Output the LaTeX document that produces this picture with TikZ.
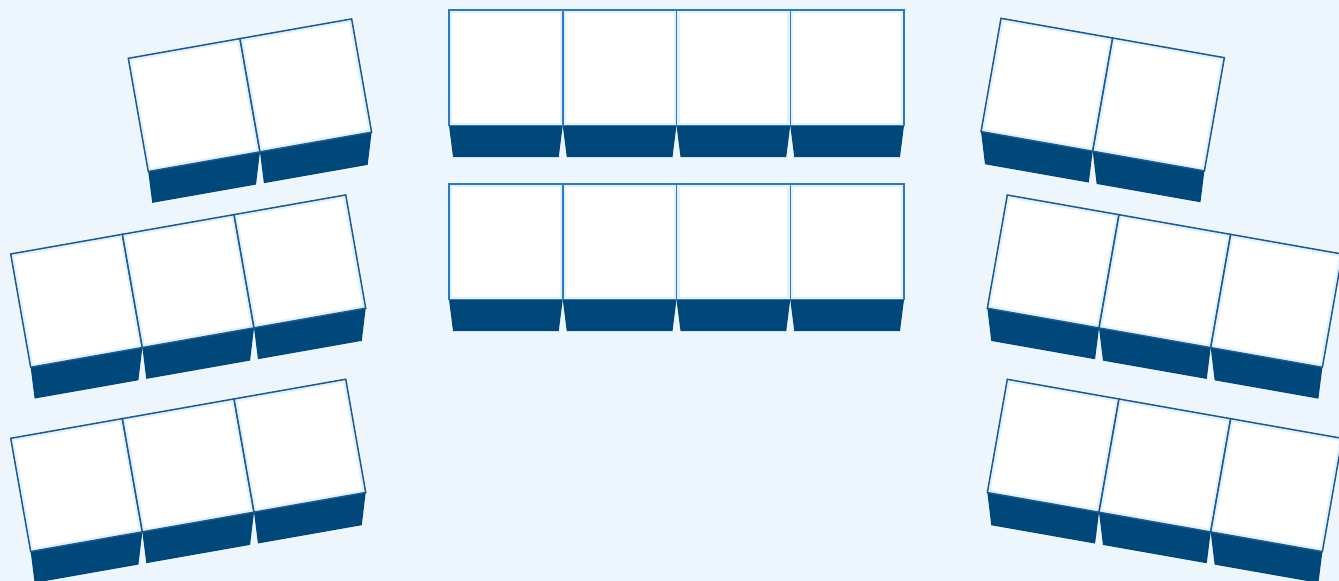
\documentclass[tikz,border=0pt]{standalone}
\usetikzlibrary{calc}
\definecolor{bgc}{HTML}{EEF6FD}
\definecolor{frontc}{HTML}{00487A}
\definecolor{edgec}{HTML}{1D5A92}
\definecolor{edgecc}{HTML}{2A78C8}
\definecolor{glowc}{HTML}{E2F2FC}
\tikzset{
  front/.style={fill=frontc},
  topface/.style={draw=edgec, line width=1.5pt, line join=miter},
  topcentre/.style={draw=edgecc, line width=1.5pt, line join=miter},
  glow/.style={draw=glowc, line width=6pt},
}
\newcommand\cellw{113.4}
\newcommand\cellh{115}
\newcommand\fdepth{32}
\newcommand\ftaper{4}
% #1 x, #2 y of top-left corner, #3 angle, #4 number of cells, #5 name, #6 style of top face
\newcommand\deskrow[6]{%
  \pgfmathsetmacro\ux{cos(#3)}%
  \pgfmathsetmacro\uy{sin(#3)}%
  \foreach \i in {1,...,#4}{%
    \pgfmathsetmacro\ox{#1+(\i-1)*\cellw*\ux}%
    \pgfmathsetmacro\oy{#2+(\i-1)*\cellw*\uy}%
    \coordinate (#5\i tl) at (\ox,\oy);
    \coordinate (#5\i tr) at ({\ox+\cellw*\ux},{\oy+\cellw*\uy});
    \coordinate (#5\i bl) at ({\ox-\cellh*\uy},{\oy+\cellh*\ux});
    \coordinate (#5\i br) at ({\ox+\cellw*\ux-\cellh*\uy},{\oy+\cellw*\uy+\cellh*\ux});
    \coordinate (#5\i fl) at ({\ox-\cellh*\uy+\ftaper*\ux},{\oy+\cellh*\ux+\fdepth+\ftaper*\uy});
    \coordinate (#5\i fr) at ({\ox+\cellw*\ux-\cellh*\uy-\ftaper*\ux},{\oy+\cellw*\uy+\cellh*\ux+\fdepth-\ftaper*\uy});
    \fill[front] (#5\i bl) -- (#5\i br) -- (#5\i fr) -- (#5\i fl) -- cycle;
    \fill[white] (#5\i tl) -- (#5\i tr) -- (#5\i br) -- (#5\i bl) -- cycle;
    \begin{scope}
      \clip (#5\i tl) -- (#5\i tr) -- (#5\i br) -- (#5\i bl) -- cycle;
      \draw[glow] (#5\i tl) -- (#5\i tr) -- (#5\i br) -- (#5\i bl) -- cycle;
    \end{scope}
    \draw[#6] (#5\i tl) -- (#5\i tr) -- (#5\i br) -- (#5\i bl) -- cycle;
  }%
}
\begin{document}
\begin{tikzpicture}[x=1pt,y=-1pt]
\useasboundingbox (0,0) rectangle (1339,581);
\fill[bgc] (0,0) rectangle (1339,581);
\clip (0,0) rectangle (1339,581);
% centre rows
\begin{scope}
\renewcommand\cellw{113.75}
\renewcommand\cellh{115.5}
\renewcommand\fdepth{31.5}
\deskrow{449}{10}{0}{4}{ca}{topcentre}
\deskrow{449}{184}{0}{4}{cb}{topcentre}
\end{scope}
% left groups
\deskrow{128.3}{58.3}{-10}{2}{la}{topface}
\deskrow{10.7}{254}{-10}{3}{lb}{topface}
\deskrow{10.7}{438.3}{-10}{3}{lc}{topface}
% right groups
\deskrow{1001}{18.3}{10}{2}{ra}{topface}
\deskrow{1007.3}{195}{10}{3}{rb}{topface}
\deskrow{1007.3}{379.3}{10}{3}{rc}{topface}
\end{tikzpicture}
\end{document}
